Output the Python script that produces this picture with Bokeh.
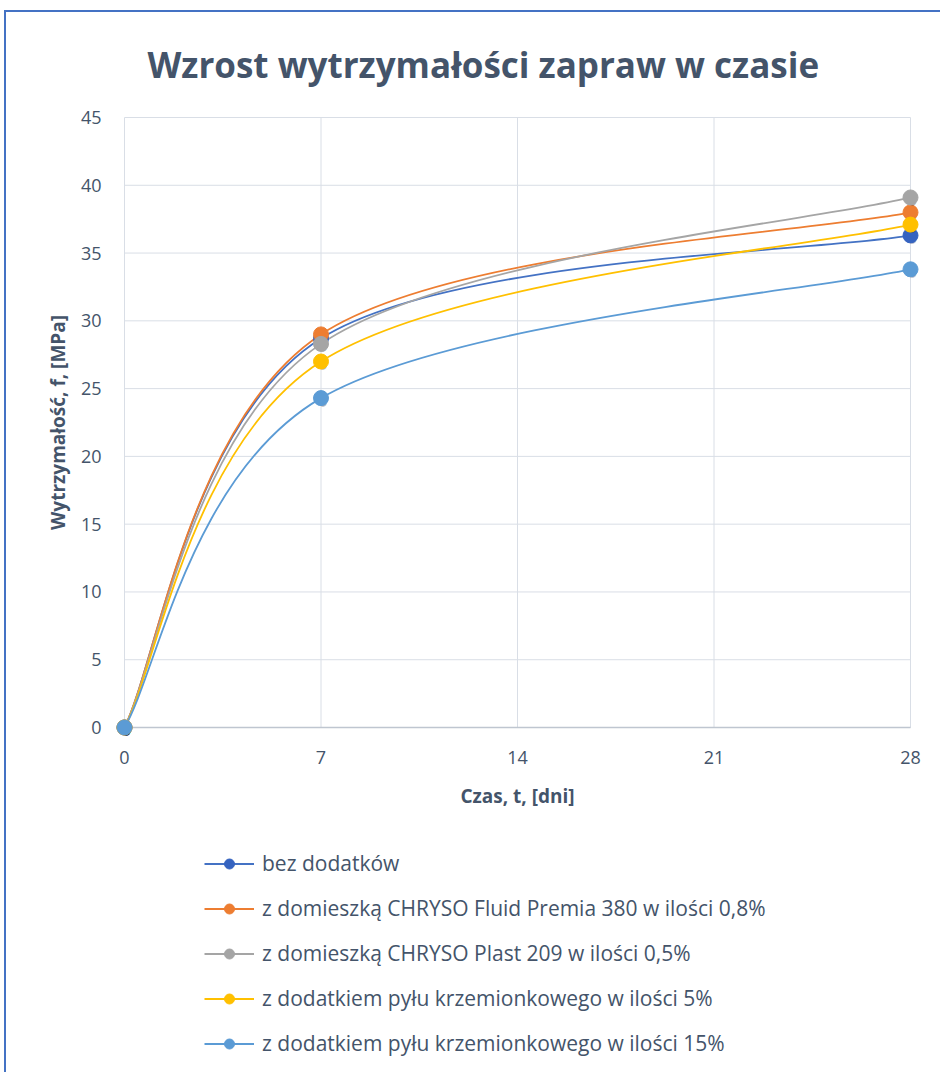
from bokeh.plotting import figure
from bokeh.models import Legend, LegendItem, FixedTicker, Range1d, ColumnDataSource
from bokeh.layouts import column
from bokeh.embed import file_html
from bokeh.resources import INLINE

days = [0, 7, 28]
series_names = [
    "bez dodatków",
    "z domieszką CHRYSO Fluid Premia 380 w ilości 0,8%",
    "z domieszką CHRYSO Plast 209 w ilości 0,5%",
    "z dodatkiem pyłu krzemionkowego w ilości 5%",
    "z dodatkiem pyłu krzemionkowego w ilości 15%",
]
bez_dodatkow = [0, 28.7, 36.3]
fluid_premia = [0, 29.0, 38.0]
plast_209 = [0, 28.3, 39.1]
pyl_5 = [0, 27.0, 37.1]
pyl_15 = [0, 24.3, 33.8]
x_ticks = [0, 7, 14, 21, 28]
y_ticks = [0, 5, 10, 15, 20, 25, 30, 35, 40, 45]

line_colors = ["#4472C4", "#ED7D31", "#A5A5A5", "#FFC000", "#5B9BD5"]
marker_colors = ["#3563C0", "#ED7D31", "#A5A5A5", "#FFC000", "#5B9BD5"]
all_series = [bez_dodatkow, fluid_premia, plast_209, pyl_5, pyl_15]

TXT = "#44546A"
FONT = "Open Sans"

# small padding so markers at the edges are not clipped
xpad = 12 / (786 / (x_ticks[-1] - x_ticks[0]))
ypad = 12 / (610 / (y_ticks[-1] - y_ticks[0]))

p = figure(width=934, height=818, output_backend="svg", toolbar_location=None,
           x_range=Range1d(x_ticks[0] - xpad, x_ticks[-1] + xpad),
           y_range=Range1d(y_ticks[0] - ypad, y_ticks[-1] + ypad),
           min_border_left=106, min_border_right=18, min_border_top=93,
           min_border_bottom=91)
p.outline_line_color = None
p.background_fill_color = "white"

p.title.text = "Wzrost wytrzymałości zapraw w czasie"
p.title.text_font = FONT
p.title.text_font_size = "35px"
p.title.text_font_style = "bold"
p.title.text_color = TXT
p.title.align = "left"
p.title.offset = 35
p.title.standoff = 36

p.xaxis.ticker = FixedTicker(ticks=x_ticks)
p.yaxis.ticker = FixedTicker(ticks=y_ticks)
for ax in (p.xaxis[0], p.yaxis[0]):
    ax.major_tick_line_color = None
    ax.minor_tick_line_color = None
    ax.axis_line_color = None
    ax.major_label_text_font = FONT
    ax.major_label_text_font_size = "18px"
    ax.major_label_text_color = TXT
    ax.axis_label_text_font = FONT
    ax.axis_label_text_font_size = "19px"
    ax.axis_label_text_font_style = "bold"
    ax.axis_label_text_color = TXT
p.xaxis.major_label_standoff = 5
p.yaxis.major_label_standoff = 5
p.xaxis.axis_label = "Czas, t, [dni]"
p.yaxis.axis_label = "Wytrzymałość, f, [MPa]"
p.xaxis.axis_label_standoff = 16
p.yaxis.axis_label_standoff = 7

p.xgrid.grid_line_color = None
p.ygrid.grid_line_color = None

# gridlines limited to the data area (Excel style)
p.segment(x0=[x_ticks[0]] * len(y_ticks), x1=[x_ticks[-1]] * len(y_ticks),
          y0=y_ticks, y1=y_ticks, line_color="#D9DEE6", line_width=1)
p.segment(x0=x_ticks, x1=x_ticks, y0=[y_ticks[0]] * len(x_ticks),
          y1=[y_ticks[-1]] * len(x_ticks), line_color="#D9DEE6", line_width=1)
p.segment(x0=[x_ticks[0]], x1=[x_ticks[-1]], y0=[y_ticks[0]], y1=[y_ticks[0]],
          line_color="#BFC6D0", line_width=1.3)

# legend figure below the chart
lf = figure(width=934, height=242, output_backend="svg", toolbar_location=None,
            x_range=Range1d(100, 101), y_range=Range1d(100, 101),
            x_axis_type=None, y_axis_type=None,
            min_border=0, min_border_left=0, min_border_right=0,
            min_border_top=0, min_border_bottom=0)
lf.grid.visible = False
lf.outline_line_color = None

legend_items = []
for name, vals, lc, mc in zip(series_names, all_series, line_colors, marker_colors):
    # Excel-style smoothed curve: cubic Bezier segments through the data points
    x0, y0, x1, y1, cx0, cy0, cx1, cy1 = [], [], [], [], [], [], [], []
    n = len(days)
    for i in range(n - 1):
        xp, yp = (days[i - 1], vals[i - 1]) if i > 0 else (days[i], vals[i])
        xn, yn = (days[i + 2], vals[i + 2]) if i + 2 < n else (days[i + 1], vals[i + 1])
        x0.append(days[i]); y0.append(vals[i])
        x1.append(days[i + 1]); y1.append(vals[i + 1])
        cx0.append(days[i] + (days[i + 1] - xp) / 6)
        cy0.append(vals[i] + (vals[i + 1] - yp) / 6)
        cx1.append(days[i + 1] - (xn - days[i]) / 6)
        cy1.append(vals[i + 1] - (yn - vals[i]) / 6)
    bz = dict(x0=x0, y0=y0, x1=x1, y1=y1, cx0=cx0, cy0=cy0, cx1=cx1, cy1=cy1)
    p.bezier("x0", "y0", "x1", "y1", "cx0", "cy0", "cx1", "cy1",
             source=ColumnDataSource(bz), line_color=lc, line_width=1.8)
    # legend glyphs (same data, outside the legend figure's visible range)
    lr = lf.line(x=days, y=vals, line_color=lc, line_width=1.8)
    ls = lf.scatter(x=days, y=vals, size=15, fill_color=mc, line_color=mc)
    legend_items.append(LegendItem(label=name, renderers=[lr, ls]))

for vals, mc in zip(all_series, marker_colors):
    p.text(x=days, y=vals, text=["●"] * len(days), text_font_size="17px",
           text_align="center", text_baseline="middle", text_color="black",
           text_alpha=0.3, x_offset=2, y_offset=4)
    p.scatter(x=days, y=vals, size=15, fill_color=mc, line_color=mc)

legend = Legend(items=legend_items, location=(92, 15), orientation="vertical")
legend.label_text_font = FONT
legend.label_text_font_size = "21px"
legend.label_text_color = TXT
legend.glyph_width = 50
legend.glyph_height = 25
legend.label_height = 25
legend.spacing = 17
legend.padding = 0
legend.margin = 0
legend.border_line_color = None
legend.background_fill_alpha = 0
legend.label_standoff = 8
lf.add_layout(legend)

layout = column(p, lf, spacing=0)
layout.margin = (10, 0, 0, 4)
layout.styles = {"border-left": "2px solid #4472C4", "border-top": "2px solid #4472C4"}

open("out.html", "w").write(file_html(layout, INLINE))
